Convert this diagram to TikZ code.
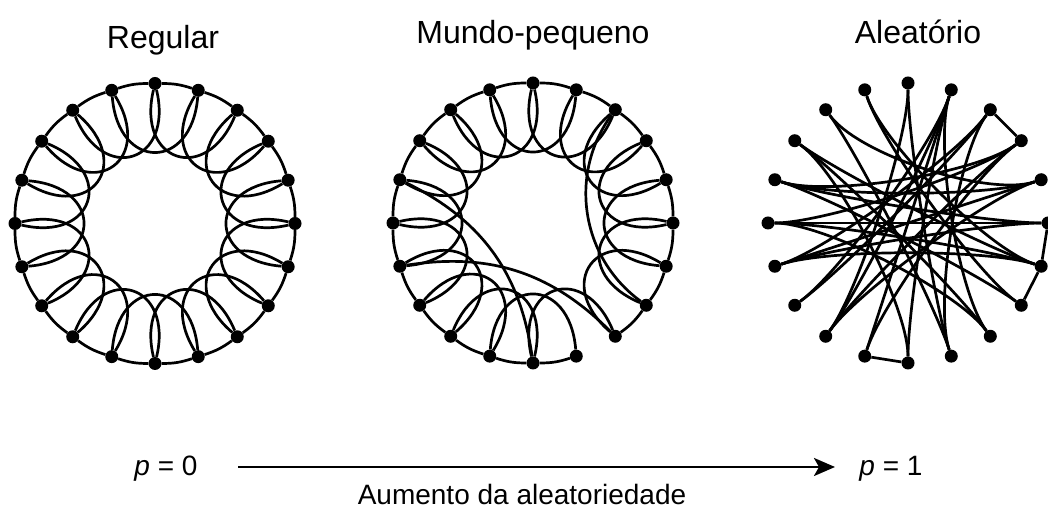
\documentclass[tikz,border=0pt]{standalone}
\usepackage{fontspec}
\setmainfont{Liberation Sans}
\usetikzlibrary{calc,arrows.meta}
\begin{document}
\begin{tikzpicture}[x=1pt,y=1pt,
  dot/.style={circle,fill=black,inner sep=0pt,minimum size=13pt},
  edge/.style={line width=2.7pt,black},
  title/.style={font=\fontsize{32}{36}\selectfont,anchor=base},
  plabel/.style={font=\fontsize{28}{32}\selectfont,anchor=base},
  axislabel/.style={font=\fontsize{28}{32}\selectfont,anchor=base}]
\useasboundingbox (0,0) rectangle (1048,513);
\fill[white] (0,0) rectangle (1048,513);

% ---------- Regular ----------
\begin{scope}[shift={(155,289.5)}]
  \coordinate (rc) at (0,0);
  \foreach \i in {0,...,19} \node[dot] (r\i) at ({90-18*\i}:140) {};
  \foreach \i in {0,...,19} {
    \pgfmathtruncatemacro\j{mod(\i+1,20)}
    \pgfmathtruncatemacro\k{mod(\i+2,20)}
    \pgfmathsetmacro\ta{90-18*\i+17}
    \pgfmathsetmacro\tb{90-18*\i-53}
    \draw[edge] (r\i) to[bend left=9] (r\j);
    \draw[edge] (r\i) .. controls (\ta:64) and (\tb:64) .. (r\k);
  }
\end{scope}

% ---------- Mundo-pequeno ----------
\begin{scope}[shift={(533,290)}]
  \coordinate (sc) at (0,0);
  \foreach \i in {0,...,19} \node[dot] (s\i) at ({90-18*\i}:140) {};
  \foreach \i in {0,...,7,9,10,...,19} {
    \pgfmathtruncatemacro\j{mod(\i+1,20)}
    \draw[edge] (s\i) to[bend left=9] (s\j);
  }
  \foreach \i in {0,...,6,8,9,...,19} {
    \pgfmathtruncatemacro\k{mod(\i+2,20)}
    \pgfmathsetmacro\ta{90-18*\i+17}
    \pgfmathsetmacro\tb{90-18*\i-53}
    \draw[edge] (s\i) .. controls (\ta:64) and (\tb:64) .. (s\k);
  }
  \draw[edge] (s16) to[bend left=28] (s10);
  \draw[edge] (s14) to[bend left=27] (s8);
  \draw[edge] (s2) to[bend right=45] (s7);
\end{scope}

% ---------- Aleatorio ----------
\begin{scope}[shift={(908,290)}]
  \coordinate (ac) at (0,0);
  \foreach \i in {0,...,19} \node[dot] (a\i) at ({90-18*\i}:140) {};
  \foreach \p/\q in {0/12,0/9,19/7,19/6,18/4,18/9,17/6,17/8,17/10,16/5,16/4,16/7,
                     15/3,15/5,15/6,15/8,14/2,14/6,14/4,14/5,13/1,13/2,12/1,12/3,
                     11/1,11/3,10/1,9/2,8/1,3/16,12/4}
    \draw[edge] (a\p) .. controls ($(a\p)!0.4!(ac)$) and ($(a\q)!0.4!(ac)$) .. (a\q);
  \foreach \p/\q in {2/3,5/6,6/7,10/11}
    \draw[edge] (a\p) -- (a\q);
\end{scope}

% ---------- Titles ----------
\node[title] (t1) at (163,464) {Regular};
\node[title] (t2) at (533,469) {Mundo-pequeno};
\node[title] (t3) at (918,469) {Aleatório};

% ---------- Axis ----------
\node[plabel] (p0) at (166,37) {\itshape p\upshape{} = 0};
\node[plabel] (p1) at (891,37) {\itshape p\upshape{} = 1};
\coordinate (arS) at (238,46);
\coordinate (arE) at (835,46);
\draw[line width=2.8pt,-{Stealth[length=21pt,width=18pt,inset=5pt]}] (arS) -- (arE);
\node[axislabel] (lab) at (522,8) {Aumento da aleatoriedade};
\end{tikzpicture}
\end{document}
